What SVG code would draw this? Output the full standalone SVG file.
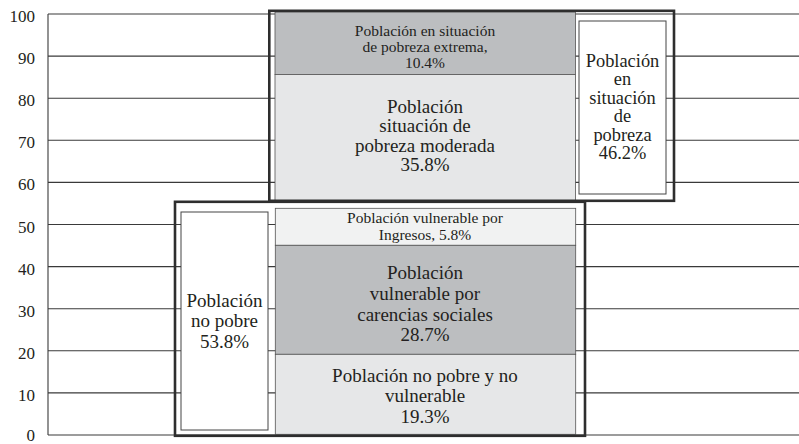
<svg xmlns="http://www.w3.org/2000/svg" width="799" height="444" viewBox="0 0 799 444" font-family="'Liberation Serif', 'DejaVu Serif', serif">
<style>
text{font-family:'Liberation Serif','DejaVu Serif',serif;fill:#231f20;text-anchor:middle}
.ax{font-size:17px;text-anchor:end}
.grid{stroke:#3a3a3a;stroke-width:1.1;fill:none}
.bar{stroke:#555;stroke-width:0.8}
.dk{fill:#bcbec0}
.lt{fill:#e6e7e8}
.vl{fill:#f1f2f2}
.wb{fill:#fff;stroke:#444;stroke-width:1}
.frame{fill:none;stroke:#2e2e2e;stroke-width:2.6}
.s{font-size:15.5px}
.m{font-size:19px}
.r{font-size:18.4px}
</style>
<g id="axis">
<line class="grid" x1="48" y1="14" x2="48" y2="435"/>
<line class="grid" x1="48" y1="14" x2="799" y2="14"/>
<line class="grid" x1="48" y1="56.1" x2="799" y2="56.1"/>
<line class="grid" x1="48" y1="98.2" x2="799" y2="98.2"/>
<line class="grid" x1="48" y1="140.3" x2="799" y2="140.3"/>
<line class="grid" x1="48" y1="182.4" x2="799" y2="182.4"/>
<line class="grid" x1="48" y1="224.5" x2="799" y2="224.5"/>
<line class="grid" x1="48" y1="266.6" x2="799" y2="266.6"/>
<line class="grid" x1="48" y1="308.7" x2="799" y2="308.7"/>
<line class="grid" x1="48" y1="350.8" x2="799" y2="350.8"/>
<line class="grid" x1="48" y1="392.9" x2="799" y2="392.9"/>
<line class="grid" x1="48" y1="435" x2="799" y2="435"/>
<text class="ax" x="35" y="22">100</text>
<text class="ax" x="35" y="64">90</text>
<text class="ax" x="35" y="106">80</text>
<text class="ax" x="35" y="148">70</text>
<text class="ax" x="35" y="190">60</text>
<text class="ax" x="35" y="232.5">50</text>
<text class="ax" x="35" y="274.5">40</text>
<text class="ax" x="35" y="316.5">30</text>
<text class="ax" x="35" y="358.5">20</text>
<text class="ax" x="35" y="401">10</text>
<text class="ax" x="35" y="440.5">0</text>
</g>
<g id="pobreza-extrema">
<rect class="bar dk" x="275" y="12" width="300.5" height="62.5"/>
<text class="s" x="425" y="35.5">Población en situación</text>
<text class="s" x="425" y="51.5">de pobreza extrema,</text>
<text class="s" x="425" y="68">10.4%</text>
</g>
<g id="pobreza-moderada">
<rect class="bar lt" x="275" y="74.5" width="300.5" height="126"/>
<text class="m" x="425" y="113">Población</text>
<text class="m" x="425" y="132">situación de</text>
<text class="m" x="425" y="151.5">pobreza moderada</text>
<text class="m" x="425" y="171">35.8%</text>
</g>
<g id="pobreza-total">
<rect class="wb" x="579" y="21" width="87" height="173"/>
<text class="r" x="622.5" y="66.5">Población</text>
<text class="r" x="622.5" y="85">en</text>
<text class="r" x="622.5" y="103.5">situación</text>
<text class="r" x="622.5" y="122">de</text>
<text class="r" x="622.5" y="140.5">pobreza</text>
<text class="r" x="622.5" y="159">46.2%</text>
</g>
<g id="grupo-pobreza">
<rect class="frame" x="269.3" y="10.8" width="404.7" height="190"/>
</g>
<g id="vulnerable-ingresos">
<rect class="bar vl" x="275.3" y="208.3" width="300.4" height="37"/>
<text class="s" x="425" y="223">Población vulnerable por</text>
<text class="s" x="425" y="239.5">Ingresos, 5.8%</text>
</g>
<g id="vulnerable-carencias">
<rect class="bar dk" x="275.3" y="245.3" width="300.4" height="109"/>
<text class="m" x="425" y="278.5">Población</text>
<text class="m" x="425" y="299.5">vulnerable por</text>
<text class="m" x="425" y="320.5">carencias sociales</text>
<text class="m" x="425" y="341">28.7%</text>
</g>
<g id="no-pobre-no-vulnerable">
<rect class="bar lt" x="275.3" y="354.3" width="300.4" height="80"/>
<text class="m" x="425" y="381.5">Población no pobre y no</text>
<text class="m" x="425" y="402">vulnerable</text>
<text class="m" x="425" y="423">19.3%</text>
</g>
<g id="no-pobre">
<rect class="wb" x="181" y="212" width="87" height="218"/>
<text class="m" x="224.5" y="306.5">Población</text>
<text class="m" x="224.5" y="327">no pobre</text>
<text class="m" x="224.5" y="347.5">53.8%</text>
</g>
<g id="grupo-no-pobre">
<rect class="frame" x="175" y="201.8" width="410" height="234"/>
</g>
<g id="connectors"/>
</svg>
